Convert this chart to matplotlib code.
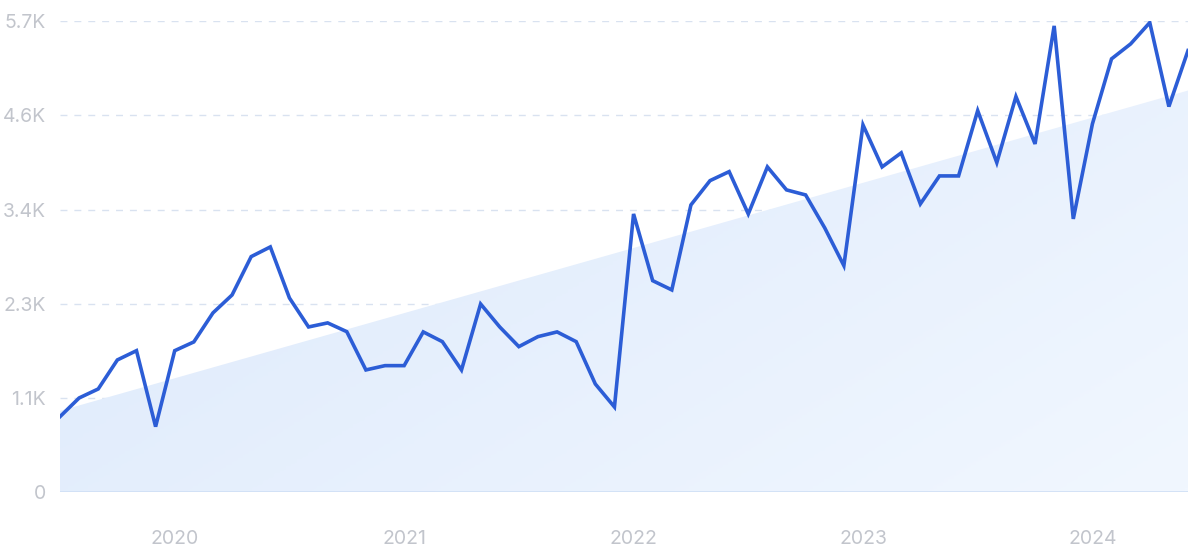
import matplotlib.pyplot as plt
import numpy as np
from matplotlib.colors import LinearSegmentedColormap

# monthly values, Jul 2019 - Jun 2024
months = [f"{y}-{m:02d}" for y in range(2019, 2025) for m in range(1, 13)][6:66]
values = [915, 1141, 1250, 1601, 1713, 794, 1713, 1819, 2170, 2387, 2851, 2968,
          2351, 2000, 2049, 1943, 1480, 1532, 1532, 1940, 1822, 1480, 2278, 2000,
          1762, 1883, 1940, 1822, 1310, 1032, 3367, 2560, 2448, 3476, 3770, 3879,
          3367, 3936, 3658, 3597, 3198, 2742, 4444, 3936, 4106, 3488, 3827, 3827,
          4617, 3988, 4787, 4214, 5642, 3307, 4456, 5243, 5424, 5682, 4666, 5343]
trend_start = 985
trend_end = 4860
year_labels = ['2020', '2021', '2022', '2023', '2024']
y_ticks = [0, 1140, 2280, 3420, 4560, 5700]
y_labels = ['0', '1.1K', '2.3K', '3.4K', '4.6K', '5.7K']

plt.rcParams['font.family'] = ['Inter', 'DejaVu Sans']

fig = plt.figure(figsize=(12, 5.55), dpi=100)
ax = fig.add_axes([0.05, 0.113, 0.94, 0.849])

x = np.arange(len(values))
trend = np.linspace(trend_start, trend_end, len(values))

# gradient-filled trend area
poly = ax.fill_between(x, 0, trend, color='none', lw=0)
cmap = LinearSegmentedColormap.from_list('bg', ['#dbe8fb', '#f1f7ff'])
gx, gy = np.meshgrid(np.linspace(0, 1, 200), np.linspace(0, 1, 200))
grad = (gx * 0.6 + gy * 0.4)
img = ax.imshow(grad, cmap=cmap, extent=[0, len(values) - 1, 0, 5700],
                origin='upper', aspect='auto', zorder=1)
img.set_clip_path(poly.get_paths()[0], transform=ax.transData)

for t in y_ticks[1:]:
    ax.axhline(t, color='#d9e2f0', lw=1, ls=(0, (5, 5)), zorder=0)
ax.axhline(0, color='#cfdff5', lw=1.2, zorder=2)

ax.plot(x, values, color='#2c5dd6', lw=2.6, zorder=3, solid_joinstyle='miter')

ax.set_xlim(0, len(values) - 1)
ax.set_ylim(0, 5700)
ax.set_yticks(y_ticks)
ax.set_yticklabels(y_labels)
ax.set_xticks([months.index(y + '-01') for y in year_labels])
ax.set_xticklabels(year_labels)
ax.tick_params(length=0, labelsize=14, labelcolor='#c2c5cc')
ax.tick_params(axis='y', pad=10)
ax.tick_params(axis='x', pad=27)
for s in ax.spines.values():
    s.set_visible(False)

plt.savefig('out.png')
